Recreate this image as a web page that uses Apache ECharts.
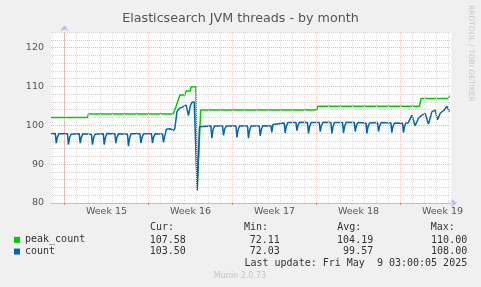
<!DOCTYPE html>
<html><head><meta charset="utf-8">
<script src="https://cdn.jsdelivr.net/npm/echarts@6/dist/echarts.min.js"></script>
<style>html,body{margin:0;padding:0;background:#f0f0f0;}#c{width:481px;height:287px;}</style>
</head><body><div id="c"></div>
<script>
// ---- data (x = days since Mon 7 Apr 2025 00:00, start of Week 15) ----
const chartTitle = 'Elasticsearch JVM threads - by month';
const weekLabels = ['Week 15', 'Week 16', 'Week 17', 'Week 18', 'Week 19'];
const weekStarts = [0, 7, 14, 21, 28];
const weekCenters = [3.5, 10.5, 17.5, 24.5, 31.5];
const yTickLabels = [80, 90, 100, 110, 120];
const seriesNames = ['peak_count', 'count'];
const statHeaders = ['Cur:', 'Min:', 'Avg:', 'Max:'];
const peakStats = ['107.58', '72.11', '104.19', '110.00'];
const countStats = ['103.50', '72.03', '99.57', '108.00'];
const lastUpdate = 'Last update: Fri May  9 03:00:05 2025';
const footer = 'Munin 2.0.73';
const sideText = 'RRDTOOL / TOBI OETIKER';

const peakCount = [
  [-1.125, 102.0], [1.92, 102.0], [2.0, 102.9], [9.05, 102.9], [9.2, 104.0], [9.3, 104.1],
  [9.62, 107.8], [10.05, 107.8], [10.12, 108.8], [10.48, 108.8], [10.55, 109.9], [10.95, 109.9],
  [11.06, 84.0], [11.35, 103.9], [21.03, 103.9], [21.1, 104.9], [29.58, 104.9], [29.72, 106.9],
  [31.97, 106.9], [32.08, 107.6]
];

const count = [
  [-1.125, 97.8],
  [-0.77, 97.9], [-0.69, 95.4], [-0.6, 96.9], [-0.47, 97.8],
  [0.25, 97.8], [0.33, 95.0], [0.42, 96.8], [0.55, 97.7],
  [1.23, 97.8], [1.31, 95.4], [1.40, 96.9], [1.53, 97.8],
  [2.25, 97.6], [2.33, 95.0], [2.42, 96.7], [2.55, 97.7],
  [3.23, 97.8], [3.31, 95.0], [3.40, 96.8], [3.53, 97.9],
  [4.20, 97.8], [4.28, 95.4], [4.37, 96.9], [4.50, 97.8],
  [5.25, 97.7], [5.33, 94.6], [5.42, 96.6], [5.55, 97.8],
  [6.29, 97.8], [6.37, 95.4], [6.46, 96.9], [6.59, 97.8],
  [7.25, 97.8], [7.33, 95.4], [7.42, 96.9], [7.55, 97.8],
  [8.17, 97.7], [8.25, 95.6], [8.34, 97.0], [8.42, 98.0],
  [8.48, 99.0], [8.8, 99.1], [8.95, 99.4], [9.08, 98.6], [9.2, 99.2], [9.37, 103.5],
  [9.58, 104.4], [9.78, 104.6], [9.92, 104.1], [10.14, 105.2], [10.33, 102.5], [10.48, 105.0],
  [10.62, 105.9], [10.81, 106.0], [10.95, 105.6], [11.06, 83.2], [11.25, 99.6], [11.39, 99.8],
  [12.20, 99.8], [12.28, 96.7], [12.37, 98.8], [12.50, 99.8],
  [13.17, 99.8], [13.25, 97.4], [13.34, 98.9], [13.47, 99.8],
  [14.29, 99.8], [14.37, 96.9], [14.46, 98.8], [14.59, 99.8],
  [15.25, 99.8], [15.33, 96.7], [15.42, 98.7], [15.55, 99.8],
  [16.23, 99.8], [16.31, 97.3], [16.40, 98.9], [16.53, 99.9],
  [17.20, 99.8], [17.28, 98.2], [17.37, 100.2], [17.50, 100.7],
  [18.31, 100.6], [18.39, 98.0], [18.48, 99.7], [18.61, 100.7],
  [19.29, 100.7], [19.37, 98.6], [19.46, 100.0], [19.59, 100.8],
  [20.25, 100.7], [20.33, 97.9], [20.42, 99.6], [20.55, 100.7],
  [21.23, 100.7], [21.31, 98.4], [21.40, 99.8], [21.53, 100.8],
  [22.20, 100.7], [22.28, 97.9], [22.37, 99.6], [22.50, 100.7],
  [23.17, 100.7], [23.25, 98.0], [23.34, 99.7], [23.47, 100.8],
  [24.15, 100.7], [24.23, 98.4], [24.32, 99.9], [24.45, 100.7],
  [25.12, 100.6], [25.20, 97.9], [25.29, 99.6], [25.42, 100.6],
  [26.09, 100.7], [26.17, 98.4], [26.26, 99.8], [26.39, 100.7],
  [27.20, 100.6], [27.28, 98.1], [27.37, 99.7], [27.50, 100.6],
  [28.17, 100.5], [28.25, 98.1], [28.34, 99.8], [28.45, 100.6],
  [28.64, 100.6], [28.95, 102.6], [29.22, 99.9], [29.5, 101.8], [29.78, 102.6], [30.06, 103.0],
  [30.33, 100.3], [30.62, 103.5], [30.89, 103.9], [31.08, 101.4], [31.31, 103.1], [31.64, 103.9],
  [31.87, 104.9], [32.0, 104.4], [32.08, 103.5]
];

// ---- chart ----
const xMin = -1.125, xMax = 32.2083;
const RED = '#eab2b2', GREY = '#d4d4d4', AXIS = '#b9bde6';
const VRED = '#f0c6c6', VGREY = '#dddddd';

const gridLines = [];
for (let d = Math.ceil(xMin); d <= Math.floor(xMax); d++) {
  if (weekStarts.indexOf(d) < 0) gridLines.push({ xAxis: d, lineStyle: { color: VGREY, type: 'dotted', width: 1 } });
}
weekStarts.forEach(d => gridLines.push({ xAxis: d, lineStyle: { color: VRED, type: 'dotted', width: 1 } }));

const chart = echarts.init(document.getElementById('c'), null, { renderer: 'canvas' });
const txt = (x, y, s, align, font, fill) => ({
  type: 'text', x: x, y: y, silent: true,
  style: { text: s, textAlign: align, textVerticalAlign: 'middle', font: font, fill: fill }
});
const mono = '10px "DejaVu Sans Mono"';
const graphics = [
  txt(150, 227, statHeaders[0], 'left', mono, '#333'),
  txt(244, 227, statHeaders[1], 'left', mono, '#333'),
  txt(337.3, 227, statHeaders[2], 'left', mono, '#333'),
  txt(430.7, 227, statHeaders[3], 'left', mono, '#333')
];
const rights = [185.8, 279.8, 373.2, 467.2];
peakStats.forEach((v, i) => graphics.push(txt(rights[i], 240, v, 'right', mono, '#333')));
countStats.forEach((v, i) => graphics.push(txt(rights[i], 251.7, v, 'right', mono, '#333')));
graphics.push(txt(467.2, 263.3, lastUpdate, 'right', mono, '#333'));
graphics.push(txt(240, 276, footer, 'center', '8px "DejaVu Sans"', '#c4c4c4'));
graphics.push({
  type: 'text', x: 471, y: 5, rotation: -Math.PI / 2, silent: true,
  style: { text: sideText, textAlign: 'left', textVerticalAlign: 'middle', font: '7.5px "DejaVu Sans"', fill: '#c8c8c8' }
});

chart.setOption({
  backgroundColor: '#f0f0f0',
  animation: false,
  title: {
    text: chartTitle, left: 'center', top: 12, padding: 0,
    textStyle: { fontFamily: 'DejaVu Sans', fontSize: 12.7, fontWeight: 'normal', color: '#555' }
  },
  legend: {
    data: seriesNames, orient: 'vertical', left: 14, top: 234, padding: 0,
    itemWidth: 6, itemHeight: 6, itemGap: 0, icon: 'rect',
    textStyle: { fontFamily: 'DejaVu Sans Mono', fontSize: 10, color: '#333', lineHeight: 11.7 }
  },
  grid: { left: 51, top: 32, width: 400, height: 171, show: true, backgroundColor: '#ffffff', borderWidth: 0 },
  xAxis: {
    type: 'value', min: xMin, max: xMax,
    axisLine: { show: true, lineStyle: { color: AXIS, width: 1 }, symbol: ['none', 'arrow'], symbolSize: [6, 6], symbolOffset: [0, 6] },
    axisTick: { show: true, customValues: weekStarts, length: 2, inside: false, lineStyle: { color: '#e08080' } },
    axisLabel: {
      customValues: weekCenters, margin: 4,
      fontFamily: 'DejaVu Sans', fontSize: 9.5, color: '#555',
      formatter: v => { const i = weekCenters.findIndex(c => Math.abs(c - v) < 1e-6); return i >= 0 ? weekLabels[i] : ''; }
    },
    splitLine: { show: false }
  },
  yAxis: {
    type: 'value', min: 80, max: 124, interval: 2,
    axisLine: { show: true, lineStyle: { color: AXIS, width: 1 }, symbol: ['none', 'arrow'], symbolSize: [6, 6], symbolOffset: [0, 7] },
    axisTick: { show: false },
    axisLabel: {
      margin: 7, fontFamily: 'DejaVu Sans', fontSize: 9.5, color: '#555',
      formatter: v => (yTickLabels.indexOf(v) >= 0 ? String(v) : '')
    },
    splitLine: { show: true, lineStyle: { color: [RED, GREY, GREY, GREY, GREY], type: 'dotted', width: 1 } }
  },
  series: [
    {
      type: 'line', name: '__grid', data: [], z: 1, silent: true,
      markLine: {
        silent: true, symbol: ['none', 'none'], label: { show: false }, animation: false,
        lineStyle: { type: 'dotted', width: 1, color: VGREY }, emphasis: { disabled: true }, data: gridLines
      }
    },
    {
      type: 'line', name: seriesNames[0], data: peakCount, z: 2, color: '#00cc00',
      showSymbol: false, symbol: 'none', lineStyle: { width: 1.5, color: '#00cc00' }
    },
    {
      type: 'line', name: seriesNames[1], data: count, z: 3, color: '#0066b3',
      showSymbol: false, symbol: 'none', lineStyle: { width: 1.5, color: '#0066b3' }
    }
  ],
  graphic: graphics
});
</script></body></html>
